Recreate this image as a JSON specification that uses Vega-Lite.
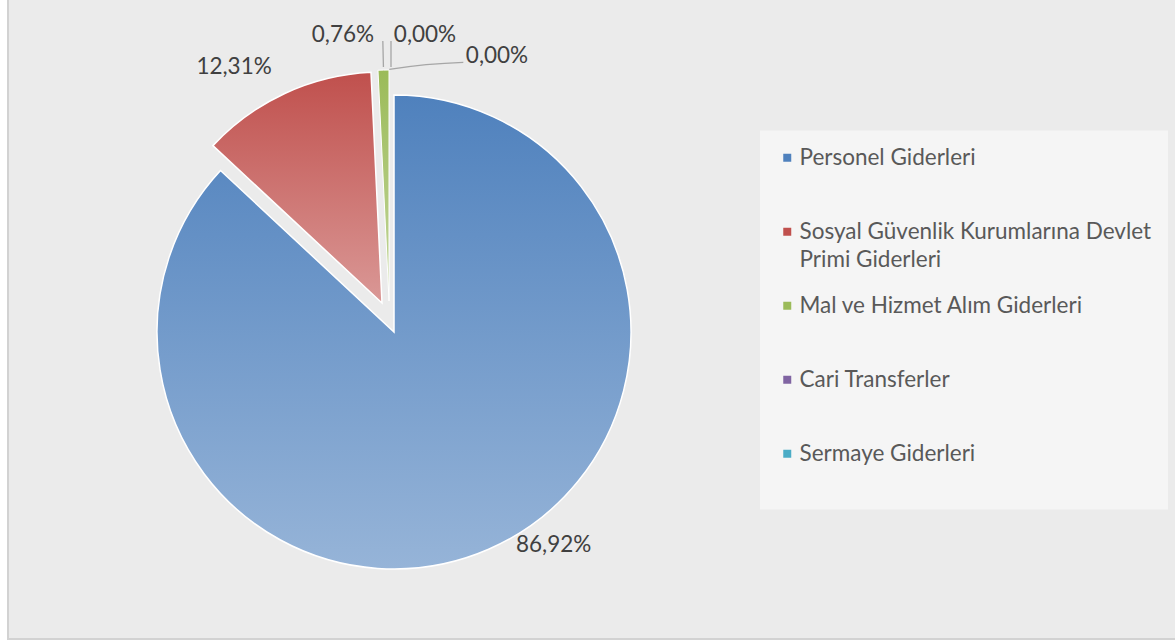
{
  "$schema": "https://vega.github.io/schema/vega-lite/v6.json",
  "width": 1170,
  "height": 641,
  "autosize": {"type": "none"},
  "padding": {"left": 8, "top": -2, "right": 0, "bottom": 5},
  "background": "#ffffff",
  "config": {
    "view": {"fill": "#ececec", "stroke": "#d4d4d4", "strokeWidth": 2},
    "locale": {"number": {"decimal": ",", "thousands": ".", "grouping": [3], "currency": ["", " TL"]}},
    "font": "Lato"
  },
  "data": {
    "values": [
      {"name": "Personel Giderleri", "value": 0.8692, "order": 1},
      {"name": "Sosyal Güvenlik Kurumlarına Devlet Primi Giderleri", "value": 0.1231, "order": 2},
      {"name": "Mal ve Hizmet Alım Giderleri", "value": 0.0076, "order": 3},
      {"name": "Cari Transferler", "value": 0, "order": 4},
      {"name": "Sermaye Giderleri", "value": 0, "order": 5}
    ]
  },
  "transform": [
    {"stack": "value", "groupby": [], "sort": [{"field": "order", "order": "ascending"}], "as": ["v0", "v1"]}
  ],
  "layer": [
    {
      "transform": [{"filter": "datum.order == 1"}],
      "mark": {"type": "rect", "fill": "#ebebeb", "stroke": "#d2d2d2", "strokeWidth": 2},
      "encoding": {}
    },
    {
      "mark": {"type": "arc", "radius": 0, "xOffset": -199, "yOffset": 13.5},
      "encoding": {
        "theta": {"field": "v0", "type": "quantitative", "stack": null, "scale": {"domain": [0, 0.9999]}},
        "theta2": {"field": "v1"},
        "color": {
          "field": "name",
          "type": "nominal",
          "sort": {"field": "order"},
          "scale": {
            "domain": ["Personel Giderleri", "Sosyal Güvenlik Kurumlarına Devlet Primi Giderleri", "Mal ve Hizmet Alım Giderleri", "Cari Transferler", "Sermaye Giderleri"],
            "range": ["#4f81bd", "#c0504d", "#9bbb59", "#8064a2", "#4bacc6"]
          },
          "legend": {
            "title": null,
            "orient": "none",
            "legendX": 752,
            "legendY": 132.5,
            "direction": "vertical",
            "symbolType": "square",
            "symbolSize": 64,
            "symbolStrokeWidth": 0,
            "symbolOpacity": 1,
            "labelFont": "Lato",
            "labelFontSize": 22.5,
            "labelColor": "#595959",
            "labelOffset": 1,
            "labelLimit": 500,
            "rowPadding": 23,
            "padding": 16,
            "fillColor": "rgba(255,255,255,0.5)",
            "labelExpr": "datum.label == 'Sosyal Güvenlik Kurumlarına Devlet Primi Giderleri' ? ['Sosyal Güvenlik Kurumlarına Devlet', 'Primi Giderleri'] : [datum.label, ' ']",
            "encode": {"labels": {"update": {"lineHeight": {"value": 28}}}}
          }
        }
      }
    },
    {
      "transform": [{"filter": "datum.name == 'Personel Giderleri'"}],
      "mark": {
        "type": "arc", "radius": 237, "xOffset": -199, "yOffset": 13.5,
        "stroke": "#ffffff", "strokeWidth": 1.5,
        "fill": {"gradient": "linear", "x1": 0, "y1": 0, "x2": 0, "y2": 1, "stops": [{"offset": 0, "color": "#4f81bd"}, {"offset": 1, "color": "#96b4d8"}]}
      },
      "encoding": {
        "theta": {"field": "v0", "type": "quantitative", "stack": null, "scale": {"domain": [0, 0.9999]}},
        "theta2": {"field": "v1"}
      }
    },
    {
      "transform": [{"filter": "datum.name == 'Sosyal Güvenlik Kurumlarına Devlet Primi Giderleri'"}],
      "mark": {
        "type": "arc", "radius": 231, "xOffset": -211, "yOffset": -15.5,
        "stroke": "#ffffff", "strokeWidth": 1.5,
        "fill": {"gradient": "linear", "x1": 0, "y1": 0, "x2": 0, "y2": 1, "stops": [{"offset": 0, "color": "#c0504d"}, {"offset": 1, "color": "#da9896"}]}
      },
      "encoding": {
        "theta": {"field": "v0", "type": "quantitative", "stack": null, "scale": {"domain": [0, 0.9999]}},
        "theta2": {"field": "v1"}
      }
    },
    {
      "transform": [{"filter": "datum.name == 'Mal ve Hizmet Alım Giderleri'"}],
      "mark": {
        "type": "arc", "radius": 231, "xOffset": -204, "yOffset": -17.5,
        "stroke": "#ffffff", "strokeWidth": 1,
        "fill": {"gradient": "linear", "x1": 0, "y1": 0, "x2": 0, "y2": 1, "stops": [{"offset": 0, "color": "#9bbb59"}, {"offset": 1, "color": "#c3d69b"}]}
      },
      "encoding": {
        "theta": {"field": "v0", "type": "quantitative", "stack": null, "scale": {"domain": [0, 0.9999]}},
        "theta2": {"field": "v1"}
      }
    },
    {
      "transform": [{"filter": "datum.name == 'Mal ve Hizmet Alım Giderleri'"}],
      "mark": {
        "type": "arc", "outerRadius": 260, "innerRadius": 234, "xOffset": -204, "yOffset": -17.5,
        "thetaOffset": 0.024, "theta2Offset": 0.024,
        "fill": null, "stroke": "#a6a6a6", "strokeWidth": 1.3
      },
      "encoding": {
        "theta": {"field": "v0", "type": "quantitative", "stack": null, "scale": {"domain": [0, 0.9999]}},
        "theta2": {"field": "v0"}
      }
    },
    {
      "transform": [{"filter": "datum.name == 'Cari Transferler'"}],
      "mark": {
        "type": "arc", "outerRadius": 260, "innerRadius": 234, "xOffset": -202, "yOffset": -17.5,
        "fill": null, "stroke": "#a6a6a6", "strokeWidth": 1.3
      },
      "encoding": {
        "theta": {"field": "v0", "type": "quantitative", "stack": null, "scale": {"domain": [0, 0.9999]}},
        "theta2": {"field": "v0"}
      }
    },
    {
      "transform": [{"filter": "datum.name == 'Sermaye Giderleri'"}],
      "mark": {
        "type": "arc", "outerRadius": 600, "innerRadius": 600, "xOffset": -110.5, "yOffset": 343.5,
        "thetaOffset": -0.156, "theta2Offset": -0.032,
        "fill": null, "stroke": "#a6a6a6", "strokeWidth": 1.3
      },
      "encoding": {
        "theta": {"field": "v0", "type": "quantitative", "stack": null, "scale": {"domain": [0, 0.9999]}},
        "theta2": {"field": "v0"}
      }
    },
    {
      "mark": {"type": "text", "radius": 232, "dx": 67, "xOffset": -199, "yOffset": 13.5, "font": "Lato", "fontSize": 22.5, "fill": "#404040", "align": "center", "baseline": "middle"},
      "encoding": {
        "theta": {"field": "value", "type": "quantitative", "stack": true, "scale": {"domain": [0, 0.9999]}},
        "order": {"field": "order"},
        "detail": {"field": "name"},
        "text": {"condition": {"test": "datum.name == 'Personel Giderleri'", "field": "value", "type": "quantitative", "format": ".2%"}, "value": ""}
      }
    },
    {
      "mark": {"type": "text", "radius": 292, "dx": -37, "xOffset": -199, "yOffset": 13.5, "font": "Lato", "fontSize": 22.5, "fill": "#404040", "align": "center", "baseline": "middle"},
      "encoding": {
        "theta": {"field": "value", "type": "quantitative", "stack": true, "scale": {"domain": [0, 0.9999]}},
        "order": {"field": "order"},
        "detail": {"field": "name"},
        "text": {"condition": {"test": "datum.name == 'Sosyal Güvenlik Kurumlarına Devlet Primi Giderleri'", "field": "value", "type": "quantitative", "format": ".2%"}, "value": ""}
      }
    },
    {
      "mark": {"type": "text", "radius": 297, "dx": -44, "xOffset": -199, "yOffset": 13.5, "font": "Lato", "fontSize": 22.5, "fill": "#404040", "align": "center", "baseline": "middle"},
      "encoding": {
        "theta": {"field": "value", "type": "quantitative", "stack": true, "scale": {"domain": [0, 0.9999]}},
        "order": {"field": "order"},
        "detail": {"field": "name"},
        "text": {"condition": {"test": "datum.name == 'Mal ve Hizmet Alım Giderleri'", "field": "value", "type": "quantitative", "format": ".2%"}, "value": ""}
      }
    },
    {
      "mark": {"type": "text", "radius": 297, "dx": 31, "xOffset": -199, "yOffset": 13.5, "font": "Lato", "fontSize": 22.5, "fill": "#404040", "align": "center", "baseline": "middle"},
      "encoding": {
        "theta": {"field": "value", "type": "quantitative", "stack": true, "scale": {"domain": [0, 0.9999]}},
        "order": {"field": "order"},
        "detail": {"field": "name"},
        "text": {"condition": {"test": "datum.name == 'Cari Transferler'", "field": "value", "type": "quantitative", "format": ".2%"}, "value": ""}
      }
    },
    {
      "mark": {"type": "text", "radius": 276, "dx": 103, "xOffset": -199, "yOffset": 13.5, "font": "Lato", "fontSize": 22.5, "fill": "#404040", "align": "center", "baseline": "middle"},
      "encoding": {
        "theta": {"field": "value", "type": "quantitative", "stack": true, "scale": {"domain": [0, 0.9999]}},
        "order": {"field": "order"},
        "detail": {"field": "name"},
        "text": {"condition": {"test": "datum.name == 'Sermaye Giderleri'", "field": "value", "type": "quantitative", "format": ".2%"}, "value": ""}
      }
    }
  ]
}
